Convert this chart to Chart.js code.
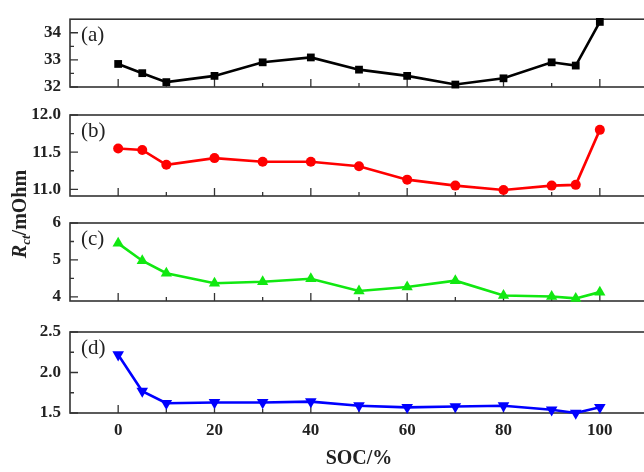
<!DOCTYPE html>
<html>
<head>
<meta charset="utf-8">
<script src="https://cdn.jsdelivr.net/npm/chart.js@4.4.0/dist/chart.umd.min.js"></script>
<style>
  html, body { margin: 0; padding: 0; background: #fff; overflow: hidden; }
  #wrap { position: relative; width: 644px; height: 472px; overflow: hidden; }
  #wrap canvas { position: absolute; left: 0; top: 0; }
</style>
</head>
<body>
<div id="wrap">
  <canvas id="chartA" width="660" height="472"></canvas>
  <canvas id="chartB" width="660" height="472"></canvas>
  <canvas id="chartC" width="660" height="472"></canvas>
  <canvas id="chartD" width="660" height="472"></canvas>
</div>
<script>
// SOC values (x) shared by all panels
const soc = [0, 5, 10, 20, 30, 40, 50, 60, 70, 80, 90, 95, 100];

// Rct values
const rctA = [32.85, 32.51, 32.18, 32.41, 32.91, 33.09, 32.64, 32.41, 32.09, 32.32, 32.91, 32.79, 34.4];
const rctB = [11.55, 11.53, 11.33, 11.42, 11.37, 11.37, 11.31, 11.13, 11.05, 10.99, 11.05, 11.06, 11.8];
const rctC = [5.45, 4.98, 4.64, 4.37, 4.41, 4.49, 4.16, 4.27, 4.44, 4.04, 4.01, 3.96, 4.13];
const rctD = [2.22, 1.77, 1.62, 1.63, 1.63, 1.64, 1.59, 1.57, 1.58, 1.59, 1.54, 1.50, 1.57];

// tick labels
const xTicks = [0, 20, 40, 60, 80, 100];
const xMinor = [10, 30, 50, 70, 90];
const yTicksA = [32, 33, 34];
const yMinorA = [32.5, 33.5];
const yTicksB = [11.0, 11.5, 12.0];
const yMinorB = [11.25, 11.75];
const yTicksC = [4, 5, 6];
const yMinorC = [4.5, 5.5];
const yTicksD = [1.5, 2.0, 2.5];
const yMinorD = [1.75, 2.25];

const panelLabels = ['(a)', '(b)', '(c)', '(d)'];
const xTitle = 'SOC/%';

const SERIF = "'Liberation Serif', 'Times New Roman', serif";
Chart.defaults.font.family = SERIF;
Chart.defaults.font.size = 17;
Chart.defaults.font.weight = 'bold';
Chart.defaults.color = '#222';

// frame, inward ticks and panel label
const framePlugin = {
    id: 'frame',
    beforeDatasetsDraw(chart, args, opts) {
        const ctx = chart.ctx;
        const area = chart.chartArea;
        const x = chart.scales.x;
        const y = chart.scales.y;
        ctx.save();
        ctx.strokeStyle = '#333';
        ctx.lineWidth = 1.6;
        ctx.strokeRect(area.left, area.top, area.right - area.left, area.bottom - area.top);

        ctx.lineWidth = 1.3;
        ctx.beginPath();
        xTicks.forEach(v => {
            const px = x.getPixelForValue(v);
            ctx.moveTo(px, area.bottom);
            ctx.lineTo(px, area.bottom - 8);
        });
        xMinor.forEach(v => {
            const px = x.getPixelForValue(v);
            ctx.moveTo(px, area.bottom);
            ctx.lineTo(px, area.bottom - 4);
        });
        opts.yMajor.forEach(v => {
            const py = y.getPixelForValue(v);
            ctx.moveTo(area.left, py);
            ctx.lineTo(area.left + 8, py);
        });
        opts.yMinor.forEach(v => {
            const py = y.getPixelForValue(v);
            ctx.moveTo(area.left, py);
            ctx.lineTo(area.left + 4, py);
        });
        ctx.stroke();

        ctx.fillStyle = '#222';
        ctx.font = 'normal 21px ' + SERIF;
        ctx.textBaseline = 'middle';
        ctx.textAlign = 'left';
        ctx.fillText(opts.label, area.left + 11, area.top + 16);
        ctx.restore();
    }
};

// shared y title: R_ct/mOhm
const yTitlePlugin = {
    id: 'yTitle',
    afterDraw(chart, args, opts) {
        if (!opts.show) return;
        const ctx = chart.ctx;
        const fBig = 'italic bold 20px ' + SERIF;
        const fSub = 'italic bold 13px ' + SERIF;
        const fRest = 'bold 20px ' + SERIF;
        ctx.save();
        ctx.font = fBig; const w1 = ctx.measureText('R').width;
        ctx.font = fSub; const w2 = ctx.measureText('ct').width;
        ctx.font = fRest; const w3 = ctx.measureText('/mOhm').width;
        const total = w1 + w2 + w3;
        ctx.translate(26, 214);
        ctx.rotate(-Math.PI / 2);
        ctx.fillStyle = '#222';
        ctx.textBaseline = 'alphabetic';
        ctx.textAlign = 'left';
        let cx = -total / 2;
        ctx.font = fBig; ctx.fillText('R', cx, 0); cx += w1;
        ctx.font = fSub; ctx.fillText('ct', cx, 4); cx += w2;
        ctx.font = fRest; ctx.fillText('/mOhm', cx, 0);
        ctx.restore();
    }
};

function makePanel(id, values, opt) {
    const ctx = document.getElementById(id).getContext('2d');
    return new Chart(ctx, {
        type: 'line',
        data: {
            datasets: [{
                data: soc.map((s, i) => ({ x: s, y: values[i] })),
                borderColor: opt.color,
                backgroundColor: opt.color,
                borderWidth: 2.6,
                pointStyle: opt.point,
                pointRadius: opt.radius,
                pointRotation: opt.rotation || 0,
                pointBorderWidth: 0,
                tension: 0,
                clip: false
            }]
        },
        options: {
            responsive: false,
            animation: false,
            layout: { padding: { top: opt.top, right: 12, left: 0, bottom: 0 } },
            scales: {
                x: {
                    type: 'linear',
                    min: -10,
                    max: 110,
                    grid: { display: false, drawTicks: false },
                    border: { display: false },
                    afterBuildTicks: s => { s.ticks = xTicks.map(v => ({ value: v })); },
                    afterFit: s => { s.height = 472 - opt.bottom; },
                    ticks: {
                        display: !!opt.showX,
                        padding: 7,
                        color: '#222',
                        font: { size: 17, weight: 'bold' }
                    },
                    title: {
                        display: !!opt.showX,
                        text: xTitle,
                        color: '#222',
                        font: { size: 20, weight: 'bold' },
                        padding: { top: 0, bottom: 1 }
                    }
                },
                y: {
                    min: opt.min,
                    max: opt.max,
                    grid: { display: false, drawTicks: false },
                    border: { display: false },
                    afterBuildTicks: s => { s.ticks = opt.ticks.map(v => ({ value: v })); },
                    afterFit: s => { s.width = 70; },
                    ticks: {
                        padding: 9,
                        color: '#222',
                        font: { size: 17, weight: 'bold' },
                        callback: v => v.toFixed(opt.decimals)
                    }
                }
            },
            plugins: {
                legend: { display: false },
                tooltip: { enabled: false },
                frame: { yMajor: opt.ticks, yMinor: opt.minor, label: opt.label },
                yTitle: { show: !!opt.showX }
            }
        },
        plugins: [framePlugin, yTitlePlugin]
    });
}

makePanel('chartA', rctA, {
    top: 5, bottom: 87, min: 32, max: 34.5, ticks: yTicksA, minor: yMinorA, decimals: 0,
    color: '#000000', point: 'rect', radius: 5.5, label: panelLabels[0]
});
makePanel('chartB', rctB, {
    top: 115, bottom: 196, min: 10.91, max: 12.0, ticks: yTicksB, minor: yMinorB, decimals: 1,
    color: '#ff0000', point: 'circle', radius: 5, label: panelLabels[1]
});
makePanel('chartC', rctC, {
    top: 223, bottom: 301, min: 3.89, max: 6.0, ticks: yTicksC, minor: yMinorC, decimals: 0,
    color: '#11e811', point: 'triangle', radius: 6.5, label: panelLabels[2]
});
makePanel('chartD', rctD, {
    top: 332, bottom: 413, min: 1.5, max: 2.5, ticks: yTicksD, minor: yMinorD, decimals: 1,
    color: '#0000ff', point: 'triangle', radius: 6.7, rotation: 180, label: panelLabels[3], showX: true
});
</script>
</body>
</html>
